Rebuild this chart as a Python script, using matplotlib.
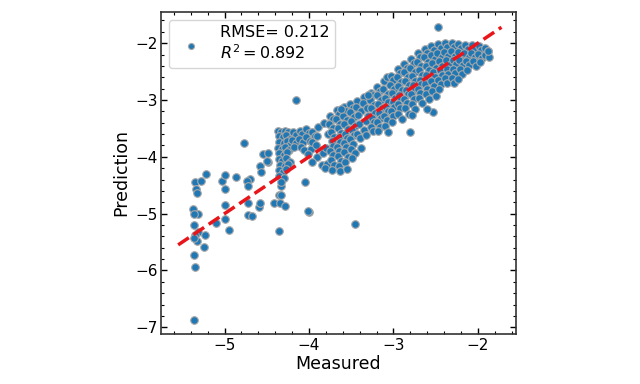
import numpy as np
import matplotlib
matplotlib.use('Agg')
from matplotlib import pyplot as plt
from matplotlib.ticker import AutoMinorLocator

# (measured, predicted) pairs, grouped by region

# sparse points at the low end
low_points = [
    (-5.35, -4.44), (-5.28, -4.42), (-5.22, -4.30), (-5.34, -4.57), (-5.33, -4.63),
    (-5.03, -4.42), (-5.00, -4.32), (-4.86, -4.36), (-4.70, -4.39), (-4.74, -4.42),
    (-4.99, -4.57), (-4.72, -4.52), (-4.99, -4.85), (-4.72, -4.81), (-5.37, -4.92),
    (-5.32, -5.01), (-5.36, -5.00), (-4.99, -5.10), (-5.10, -5.17), (-4.95, -5.29),
    (-4.72, -5.02), (-4.68, -5.04), (-4.59, -4.89), (-4.58, -4.82), (-4.42, -4.81),
    (-4.36, -4.68), (-4.33, -4.68), (-4.34, -4.82), (-4.29, -4.86), (-4.33, -4.52),
    (-4.35, -5.30), (-4.00, -4.98), (-3.46, -5.18), (-5.36, -5.20), (-5.31, -5.32),
    (-5.35, -5.37), (-5.33, -5.49), (-5.36, -5.43), (-5.23, -5.37), (-5.24, -5.58),
    (-5.36, -5.72), (-5.35, -5.94), (-5.36, -6.87), (-4.58, -4.17), (-4.57, -4.26),
    (-4.48, -4.10), (-4.54, -3.95), (-4.77, -3.76), (-4.05, -4.44), (-4.15, -3.00),
    (-4.49, -3.93), (-4.50, -4.08), (-4.01, -4.96),
]

# vertical strip of repeated measured values near -4.3
strip_points = [
    (-4.37, -3.54), (-4.33, -3.56), (-4.29, -3.55), (-4.25, -3.57),
    (-4.36, -3.64), (-4.31, -3.66), (-4.27, -3.62), (-4.23, -3.68),
    (-4.35, -3.74), (-4.30, -3.76), (-4.26, -3.72), (-4.22, -3.79),
    (-4.37, -3.84), (-4.32, -3.86), (-4.28, -3.82), (-4.24, -3.88),
    (-4.35, -3.94), (-4.30, -3.97), (-4.26, -3.92),
    (-4.36, -4.04), (-4.32, -4.07), (-4.27, -4.02), (-4.23, -4.09),
    (-4.34, -4.14), (-4.29, -4.17), (-4.25, -4.12),
    (-4.36, -4.24), (-4.31, -4.27), (-4.27, -4.22),
    (-4.35, -4.34), (-4.30, -4.37), (-4.33, -4.44),
]

# main band along the diagonal
band_points = [
    (-4.19, -3.56), (-4.16, -3.62), (-4.20, -3.70), (-4.15, -3.76), (-4.18, -3.83),
    (-4.11, -3.54), (-4.08, -3.60), (-4.12, -3.68), (-4.07, -3.74), (-4.10, -3.82), (-4.06, -3.88),
    (-4.03, -3.51), (-4.00, -3.58), (-4.04, -3.65), (-3.99, -3.72), (-3.98, -3.86),
    (-4.01, -3.95),
    (-3.96, -3.56), (-3.93, -3.63), (-3.97, -3.74), (-3.92, -3.80), (-3.91, -4.00),
    (-3.97, -4.10),
    (-3.89, -3.48), (-3.90, -3.64), (-3.84, -3.93), (-3.85, -4.14),
    (-3.82, -3.40), (-3.78, -3.60), (-3.80, -3.85), (-3.79, -4.12), (-3.81, -4.20),
    (-3.75, -3.28), (-3.72, -3.34), (-3.76, -3.42), (-3.71, -3.50), (-3.74, -3.57), (-3.70, -3.65),
    (-3.73, -3.73), (-3.71, -3.81), (-3.75, -3.89), (-3.72, -3.97), (-3.74, -4.06), (-3.70, -4.14),
    (-3.73, -4.23),
    (-3.67, -3.18), (-3.64, -3.25), (-3.68, -3.33), (-3.63, -3.43), (-3.66, -3.50), (-3.62, -3.58),
    (-3.65, -3.66), (-3.63, -3.74), (-3.67, -3.82), (-3.64, -3.90), (-3.66, -3.99), (-3.62, -4.07),
    (-3.65, -4.16), (-3.63, -4.25),
    (-3.59, -3.12), (-3.56, -3.19), (-3.60, -3.28), (-3.55, -3.36), (-3.58, -3.43), (-3.54, -3.51),
    (-3.57, -3.59), (-3.55, -3.67), (-3.59, -3.75), (-3.56, -3.83), (-3.58, -3.92), (-3.54, -4.00),
    (-3.57, -4.09), (-3.55, -4.22),
    (-3.51, -3.07), (-3.48, -3.14), (-3.52, -3.22), (-3.47, -3.30), (-3.50, -3.37), (-3.46, -3.45),
    (-3.49, -3.53), (-3.47, -3.61), (-3.51, -3.69), (-3.48, -3.77), (-3.50, -3.86), (-3.46, -3.94),
    (-3.49, -4.02),
    (-3.43, -3.02), (-3.44, -3.12), (-3.39, -3.20), (-3.42, -3.27),
    (-3.41, -3.43), (-3.43, -3.59), (-3.40, -3.67), (-3.38, -3.85),
    (-3.35, -2.95), (-3.36, -3.06), (-3.31, -3.14), (-3.30, -3.29),
    (-3.33, -3.37), (-3.35, -3.53), (-3.32, -3.61),
    (-3.27, -2.88), (-3.24, -2.92), (-3.28, -3.00), (-3.23, -3.08), (-3.26, -3.15), (-3.22, -3.23),
    (-3.25, -3.31), (-3.23, -3.39), (-3.27, -3.47), (-3.24, -3.55),
    (-3.19, -2.77), (-3.16, -2.84), (-3.20, -2.92), (-3.15, -3.00), (-3.18, -3.07), (-3.14, -3.15),
    (-3.17, -3.23), (-3.15, -3.31), (-3.19, -3.39), (-3.16, -3.47), (-3.18, -3.55),
    (-3.11, -2.66), (-3.08, -2.60), (-3.12, -2.81), (-3.07, -2.89), (-3.10, -2.96), (-3.06, -3.04),
    (-3.09, -3.12), (-3.07, -3.20), (-3.11, -3.28), (-3.08, -3.36), (-3.10, -3.45), (-3.06, -3.56),
    (-3.03, -2.58), (-3.00, -2.65), (-3.04, -2.73), (-2.99, -2.81), (-3.02, -2.88), (-2.98, -2.96),
    (-3.01, -3.04), (-2.99, -3.12), (-3.03, -3.20), (-3.00, -3.28), (-3.02, -3.38),
    (-2.95, -2.45), (-2.92, -2.52), (-2.96, -2.60), (-2.91, -2.68), (-2.94, -2.75), (-2.90, -2.83),
    (-2.93, -2.91), (-2.91, -2.99), (-2.95, -3.07), (-2.92, -3.15), (-2.94, -3.24), (-2.90, -3.33),
    (-2.87, -2.36), (-2.84, -2.43), (-2.88, -2.51), (-2.83, -2.59), (-2.86, -2.66), (-2.82, -2.74),
    (-2.85, -2.82), (-2.83, -2.90), (-2.87, -2.98), (-2.84, -3.06), (-2.86, -3.15), (-2.82, -3.24),
    (-2.79, -2.28), (-2.76, -2.35), (-2.80, -2.43), (-2.75, -2.51), (-2.78, -2.58), (-2.74, -2.66),
    (-2.77, -2.74), (-2.75, -2.82), (-2.79, -2.90), (-2.76, -2.98), (-2.78, -3.07), (-2.74, -3.16),
    (-2.71, -2.18), (-2.68, -2.25), (-2.72, -2.33), (-2.67, -2.41), (-2.70, -2.48), (-2.66, -2.56),
    (-2.69, -2.64), (-2.67, -2.72), (-2.71, -2.80), (-2.68, -2.88), (-2.70, -2.97), (-2.66, -3.06),
    (-2.63, -2.10), (-2.60, -2.17), (-2.64, -2.25), (-2.59, -2.33), (-2.62, -2.40), (-2.58, -2.48),
    (-2.61, -2.56), (-2.59, -2.64), (-2.63, -2.72), (-2.60, -2.80), (-2.62, -2.89), (-2.58, -2.98),
    (-2.55, -2.05), (-2.52, -2.12), (-2.56, -2.20), (-2.51, -2.28), (-2.54, -2.35), (-2.50, -2.43),
    (-2.53, -2.51), (-2.51, -2.59), (-2.55, -2.67), (-2.52, -2.75), (-2.54, -2.84), (-2.50, -2.93),
    (-2.47, -2.02), (-2.44, -2.09), (-2.48, -2.17), (-2.43, -2.25), (-2.46, -2.32), (-2.42, -2.40),
    (-2.45, -2.48), (-2.43, -2.56), (-2.47, -2.64), (-2.44, -2.72), (-2.46, -2.81),
    (-2.39, -2.00), (-2.36, -2.07), (-2.40, -2.15), (-2.35, -2.23), (-2.38, -2.30), (-2.34, -2.38),
    (-2.37, -2.46), (-2.35, -2.54), (-2.39, -2.62), (-2.36, -2.71),
    (-2.31, -2.00), (-2.28, -2.07), (-2.32, -2.14), (-2.27, -2.22), (-2.30, -2.29), (-2.26, -2.37),
    (-2.29, -2.45), (-2.27, -2.53), (-2.31, -2.62), (-2.28, -2.70),
    (-2.23, -2.01), (-2.20, -2.08), (-2.24, -2.15), (-2.19, -2.23), (-2.22, -2.30), (-2.18, -2.38),
    (-2.21, -2.46), (-2.19, -2.55), (-2.23, -2.63),
    (-2.15, -2.03), (-2.12, -2.10), (-2.16, -2.17), (-2.11, -2.24), (-2.14, -2.31), (-2.10, -2.39),
    (-2.13, -2.48),
    (-2.07, -2.04), (-2.04, -2.11), (-2.08, -2.18), (-2.03, -2.25), (-2.06, -2.32), (-2.02, -2.40),
    (-1.99, -2.05), (-1.96, -2.12), (-2.00, -2.19), (-1.95, -2.26), (-1.98, -2.33),
    (-1.91, -2.08), (-1.88, -2.14), (-1.92, -2.20), (-1.87, -2.24),
]

# stray points around the band
high_points = [
    (-2.47, -1.71), (-2.80, -3.57), (-2.53, -3.21), (-2.60, -3.16), (-2.78, -3.26),
    (-1.88, -2.13), (-3.62, -3.16), (-3.30, -2.92),
]

rmse = 0.212
r2 = 0.892
ideal_line = [-5.55, -1.72]

pts = np.array(low_points + strip_points + band_points + high_points)
measured = pts[:, 0]
predicted = pts[:, 1]

fig = plt.figure(figsize=(6.4, 3.84), dpi=100)
ax = fig.add_axes([0.252, 0.130, 0.554, 0.839])

ax.scatter(measured, predicted, s=30, c='#1f77b4', edgecolors='#a8a8a8',
           linewidths=0.8, label=f'RMSE= {rmse}\n$R^2 = {r2}$', zorder=2)
ax.plot(ideal_line, ideal_line, '--', color='#e8161b', lw=2.5, zorder=3)

ax.set_xlim(-5.75, -1.55)
ax.set_ylim(-7.12, -1.45)
ax.set_xticks([-5, -4, -3, -2])
ax.set_yticks([-7, -6, -5, -4, -3, -2])
ax.xaxis.set_minor_locator(AutoMinorLocator(5))
ax.yaxis.set_minor_locator(AutoMinorLocator(5))
ax.tick_params(which='both', direction='in', top=True, right=True, labelsize=11, pad=2.5)
ax.tick_params(which='major', length=4.5, width=1)
ax.tick_params(which='minor', length=2.3, width=0.8)
for sp in ax.spines.values():
    sp.set_linewidth(1.2)
    sp.set_color('#333333')

ax.set_xlabel('Measured', fontsize=12.5, labelpad=2)
ax.set_ylabel('Prediction', fontsize=12.5)
ax.legend(loc='upper left', fontsize=11.5, handletextpad=0.8, markerscale=0.8,
          borderpad=0.35, labelspacing=0.2)

fig.savefig('out.png', dpi=100)
